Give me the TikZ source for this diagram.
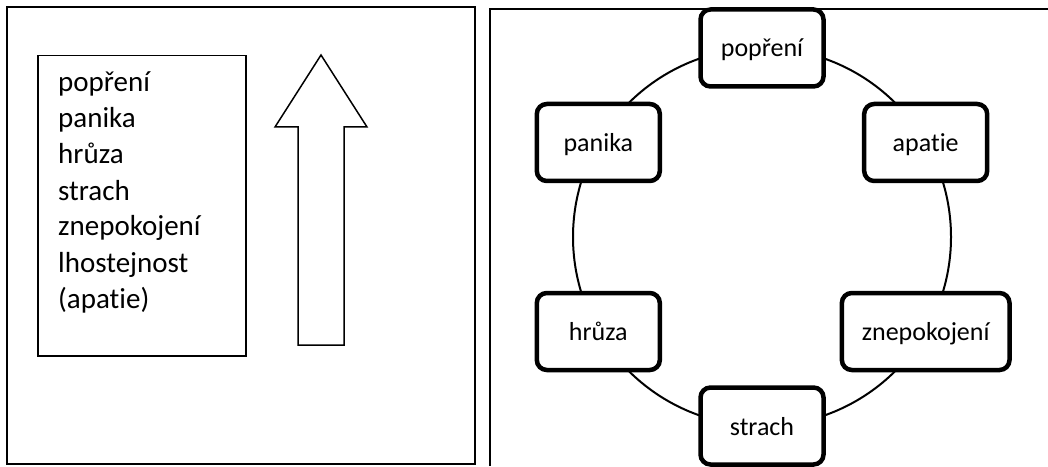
\documentclass[tikz,border=0pt]{standalone}
\usepackage{fontspec}
\setmainfont{Carlito}[Ligatures=NoCommon]
\usepackage{tikz}
\usetikzlibrary{positioning}

\begin{document}
\begin{tikzpicture}[
  x=1pt,y=1pt,
  panel/.style={draw,line width=1.3pt},
  stage/.style={draw,line width=4.5pt,rounded corners=10pt,fill=white,minimum width=123pt,minimum height=77pt,inner xsep=20pt,text height=20pt,text depth=2pt,font=\fontsize{26}{30}\selectfont},
  listtext/.style={align=left,inner sep=0pt,font=\fontsize{29}{36}\selectfont},
]
\useasboundingbox (0,0) rectangle (1048,466);

% left panel
\draw[panel] (7,2) rectangle (475,459);
\node (listbox) [draw,line width=1.5pt,anchor=north west,minimum width=208pt,minimum height=300pt,inner sep=0pt] at (37,411) {};
\node (items) [listtext,anchor=base west] at (58,158) {popření\\panika\\hrůza\\strach\\znepokojení\\lhostejnost\\(apatie)};
\draw[line width=1.5pt] (321,411) -- (367,339) -- (344,339) -- (344,121) -- (298,121) -- (298,339) -- (275,339) -- cycle;

% right panel
\draw[line width=2pt] (490,0) |- (1048,457);
\coordinate (cyc) at (762,229);
\draw[line width=2pt] (cyc) circle (189);
\node (popreni) [stage] at ([shift={(90:189)}]cyc) {popření};
\node (apatie) [stage] at ([shift={(30:189)}]cyc) {apatie};
\node (znepokojeni) [stage] at ([shift={(-30:189)}]cyc) {znepokojení};
\node (strach) [stage] at ([shift={(-90:189)}]cyc) {strach};
\node (hruza) [stage] at ([shift={(210:189)}]cyc) {hrůza};
\node (panika) [stage] at ([shift={(150:189)}]cyc) {panika};
\end{tikzpicture}
\end{document}
